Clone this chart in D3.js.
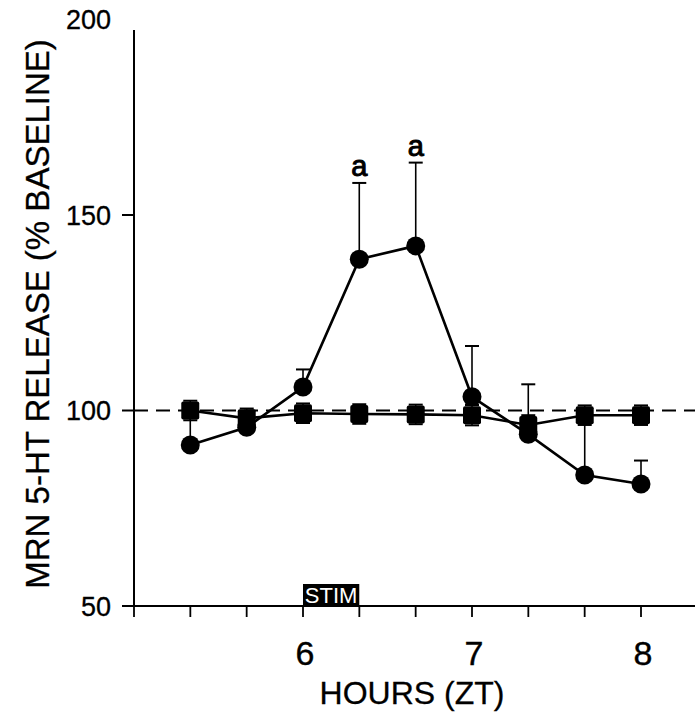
<!DOCTYPE html>
<html><head><meta charset="utf-8">
<script src="https://cdn.jsdelivr.net/npm/d3@7"></script>
<style>body{margin:0;background:#fff}svg{display:block;font-family:"Liberation Sans",Arial,sans-serif}svg text{font-family:"Liberation Sans",Arial,sans-serif}</style>
</head><body>
<svg id="c" width="700" height="719"></svg>
<script>
const hours = [5.333, 5.667, 6, 6.333, 6.667, 7, 7.333, 7.667, 8];
const stimValues = [91.2, 95.7, 106, 138.7, 142.1, 103.5, 93.9, 83.5, 81.2];
const stimErrUp = [8.5, 2, 4.5, 19.5, 21.3, 13, 12.8, 15, 6];
const ctrlValues = [100, 98, 99.3, 99.1, 99, 98.8, 96.3, 98.8, 98.8];
const ctrlErr = [2.5, 2.5, 2.5, 2.5, 2.5, 2.6, 2.5, 2.5, 2.5];
const sigLabels = [null, null, null, "a", "a", null, null, null, null];
const xTickLabels = [6, 7, 8];
const yTickLabels = [50, 100, 150, 200];
const baseline = 100;
const stimWindow = [6, 6.333];
const stimText = "STIM";

const svg = d3.select("#c");
const x = d3.scaleLinear().domain([5, 8]).range([134, 641]);
const y = d3.scaleLinear().domain([50, 200]).range([606, 19.5]);

// axes
svg.append("line").attr("x1", x(5)).attr("x2", 695).attr("y1", y(50)).attr("y2", y(50))
  .attr("stroke", "#000").attr("stroke-width", 2);
svg.append("line").attr("x1", x(5)).attr("x2", x(5)).attr("y1", y(50)).attr("y2", 30)
  .attr("stroke", "#000").attr("stroke-width", 2);

// x ticks every 1/3 hour
const xt = d3.range(0, 10).map(i => 5 + i / 3);
svg.selectAll(".xt").data(xt).enter().append("line")
  .attr("x1", d => x(d)).attr("x2", d => x(d)).attr("y1", y(50)).attr("y2", y(50) + 11)
  .attr("stroke", "#000").attr("stroke-width", 1.8);
svg.selectAll(".xl").data(xTickLabels).enter().append("text")
  .attr("x", d => x(d) + 2).attr("y", 665).attr("text-anchor", "middle")
  .attr("font-size", 34).attr("stroke", "#000").attr("stroke-width", 0.4).text(d => d);

// y ticks
svg.selectAll(".yt").data(yTickLabels.filter(d => d < 200)).enter().append("line")
  .attr("x1", x(5) - 12).attr("x2", x(5)).attr("y1", d => y(d)).attr("y2", d => y(d))
  .attr("stroke", "#000").attr("stroke-width", 2);
svg.selectAll(".yl").data(yTickLabels).enter().append("text")
  .attr("x", 111).attr("y", d => y(d) + 9.5).attr("text-anchor", "end")
  .attr("font-size", 27).attr("stroke", "#000").attr("stroke-width", 0.3).text(d => d);

// axis titles
svg.append("text").attr("x", 412).attr("y", 704).attr("text-anchor", "middle")
  .attr("font-size", 32).attr("stroke", "#000").attr("stroke-width", 0.3).text("HOURS (ZT)");
svg.append("text").attr("transform", "translate(49,314) rotate(-90)").attr("text-anchor", "middle")
  .attr("font-size", 33).attr("stroke", "#000").attr("stroke-width", 0.3).text("MRN 5-HT RELEASE (% BASELINE)");

// baseline dashed
svg.append("line").attr("x1", x(5)).attr("x2", 695).attr("y1", y(baseline)).attr("y2", y(baseline))
  .attr("stroke", "#000").attr("stroke-width", 2).attr("stroke-dasharray", "14,8");

// STIM box
svg.append("rect").attr("x", x(stimWindow[0])).attr("width", x(stimWindow[1]) - x(stimWindow[0]))
  .attr("y", y(50) - 22).attr("height", 22).attr("fill", "#000");
svg.append("text").attr("x", (x(stimWindow[0]) + x(stimWindow[1])) / 2).attr("y", y(50) - 3)
  .attr("text-anchor", "middle").attr("fill", "#fff").attr("font-size", 22).text(stimText);

const line = d3.line().x(d => x(d[0])).y(d => y(d[1]));

// control series (squares)
const ctrl = hours.map((h, i) => [h, ctrlValues[i], ctrlErr[i]]);
const eg = svg.append("g");
ctrl.forEach(d => {
  eg.append("line").attr("x1", x(d[0])).attr("x2", x(d[0])).attr("y1", y(d[1] - d[2])).attr("y2", y(d[1] + d[2]))
    .attr("stroke", "#000").attr("stroke-width", 1.5);
  [d[1] - d[2], d[1] + d[2]].forEach(v => eg.append("line")
    .attr("x1", x(d[0]) - 7).attr("x2", x(d[0]) + 7).attr("y1", y(v)).attr("y2", y(v))
    .attr("stroke", "#000").attr("stroke-width", 2));
});
svg.append("path").attr("d", line(ctrl)).attr("fill", "none").attr("stroke", "#000").attr("stroke-width", 2.6);

// stim error bars (up)
const stim = hours.map((h, i) => [h, stimValues[i], stimErrUp[i]]);
stim.forEach(d => {
  svg.append("line").attr("x1", x(d[0])).attr("x2", x(d[0])).attr("y1", y(d[1])).attr("y2", y(d[1] + d[2]))
    .attr("stroke", "#000").attr("stroke-width", 1.6);
  svg.append("line").attr("x1", x(d[0]) - 7).attr("x2", x(d[0]) + 7).attr("y1", y(d[1] + d[2])).attr("y2", y(d[1] + d[2]))
    .attr("stroke", "#000").attr("stroke-width", 2);
});

svg.selectAll(".sq").data(ctrl).enter().append("rect")
  .attr("x", d => x(d[0]) - 9).attr("y", d => y(d[1]) - 9).attr("width", 18).attr("height", 18)
  .attr("rx", 2).attr("fill", "#000");

svg.append("path").attr("d", line(stim)).attr("fill", "none").attr("stroke", "#000").attr("stroke-width", 2.6);
svg.selectAll(".ci").data(stim).enter().append("circle")
  .attr("cx", d => x(d[0])).attr("cy", d => y(d[1])).attr("r", 9.5).attr("fill", "#000");

// significance labels
svg.selectAll(".sig").data(stim.map((d, i) => [d, sigLabels[i]]).filter(p => p[1])).enter().append("text")
  .attr("x", p => x(p[0][0])).attr("y", p => y(p[0][1] + p[0][2]) - 7).attr("text-anchor", "middle")
  .style("font-family", "'Liberation Sans', Arial, sans-serif").style("font-weight", "normal")
  .attr("font-size", 29).attr("stroke", "#000").attr("stroke-width", 1).text(p => p[1]);
</script>
</body></html>
